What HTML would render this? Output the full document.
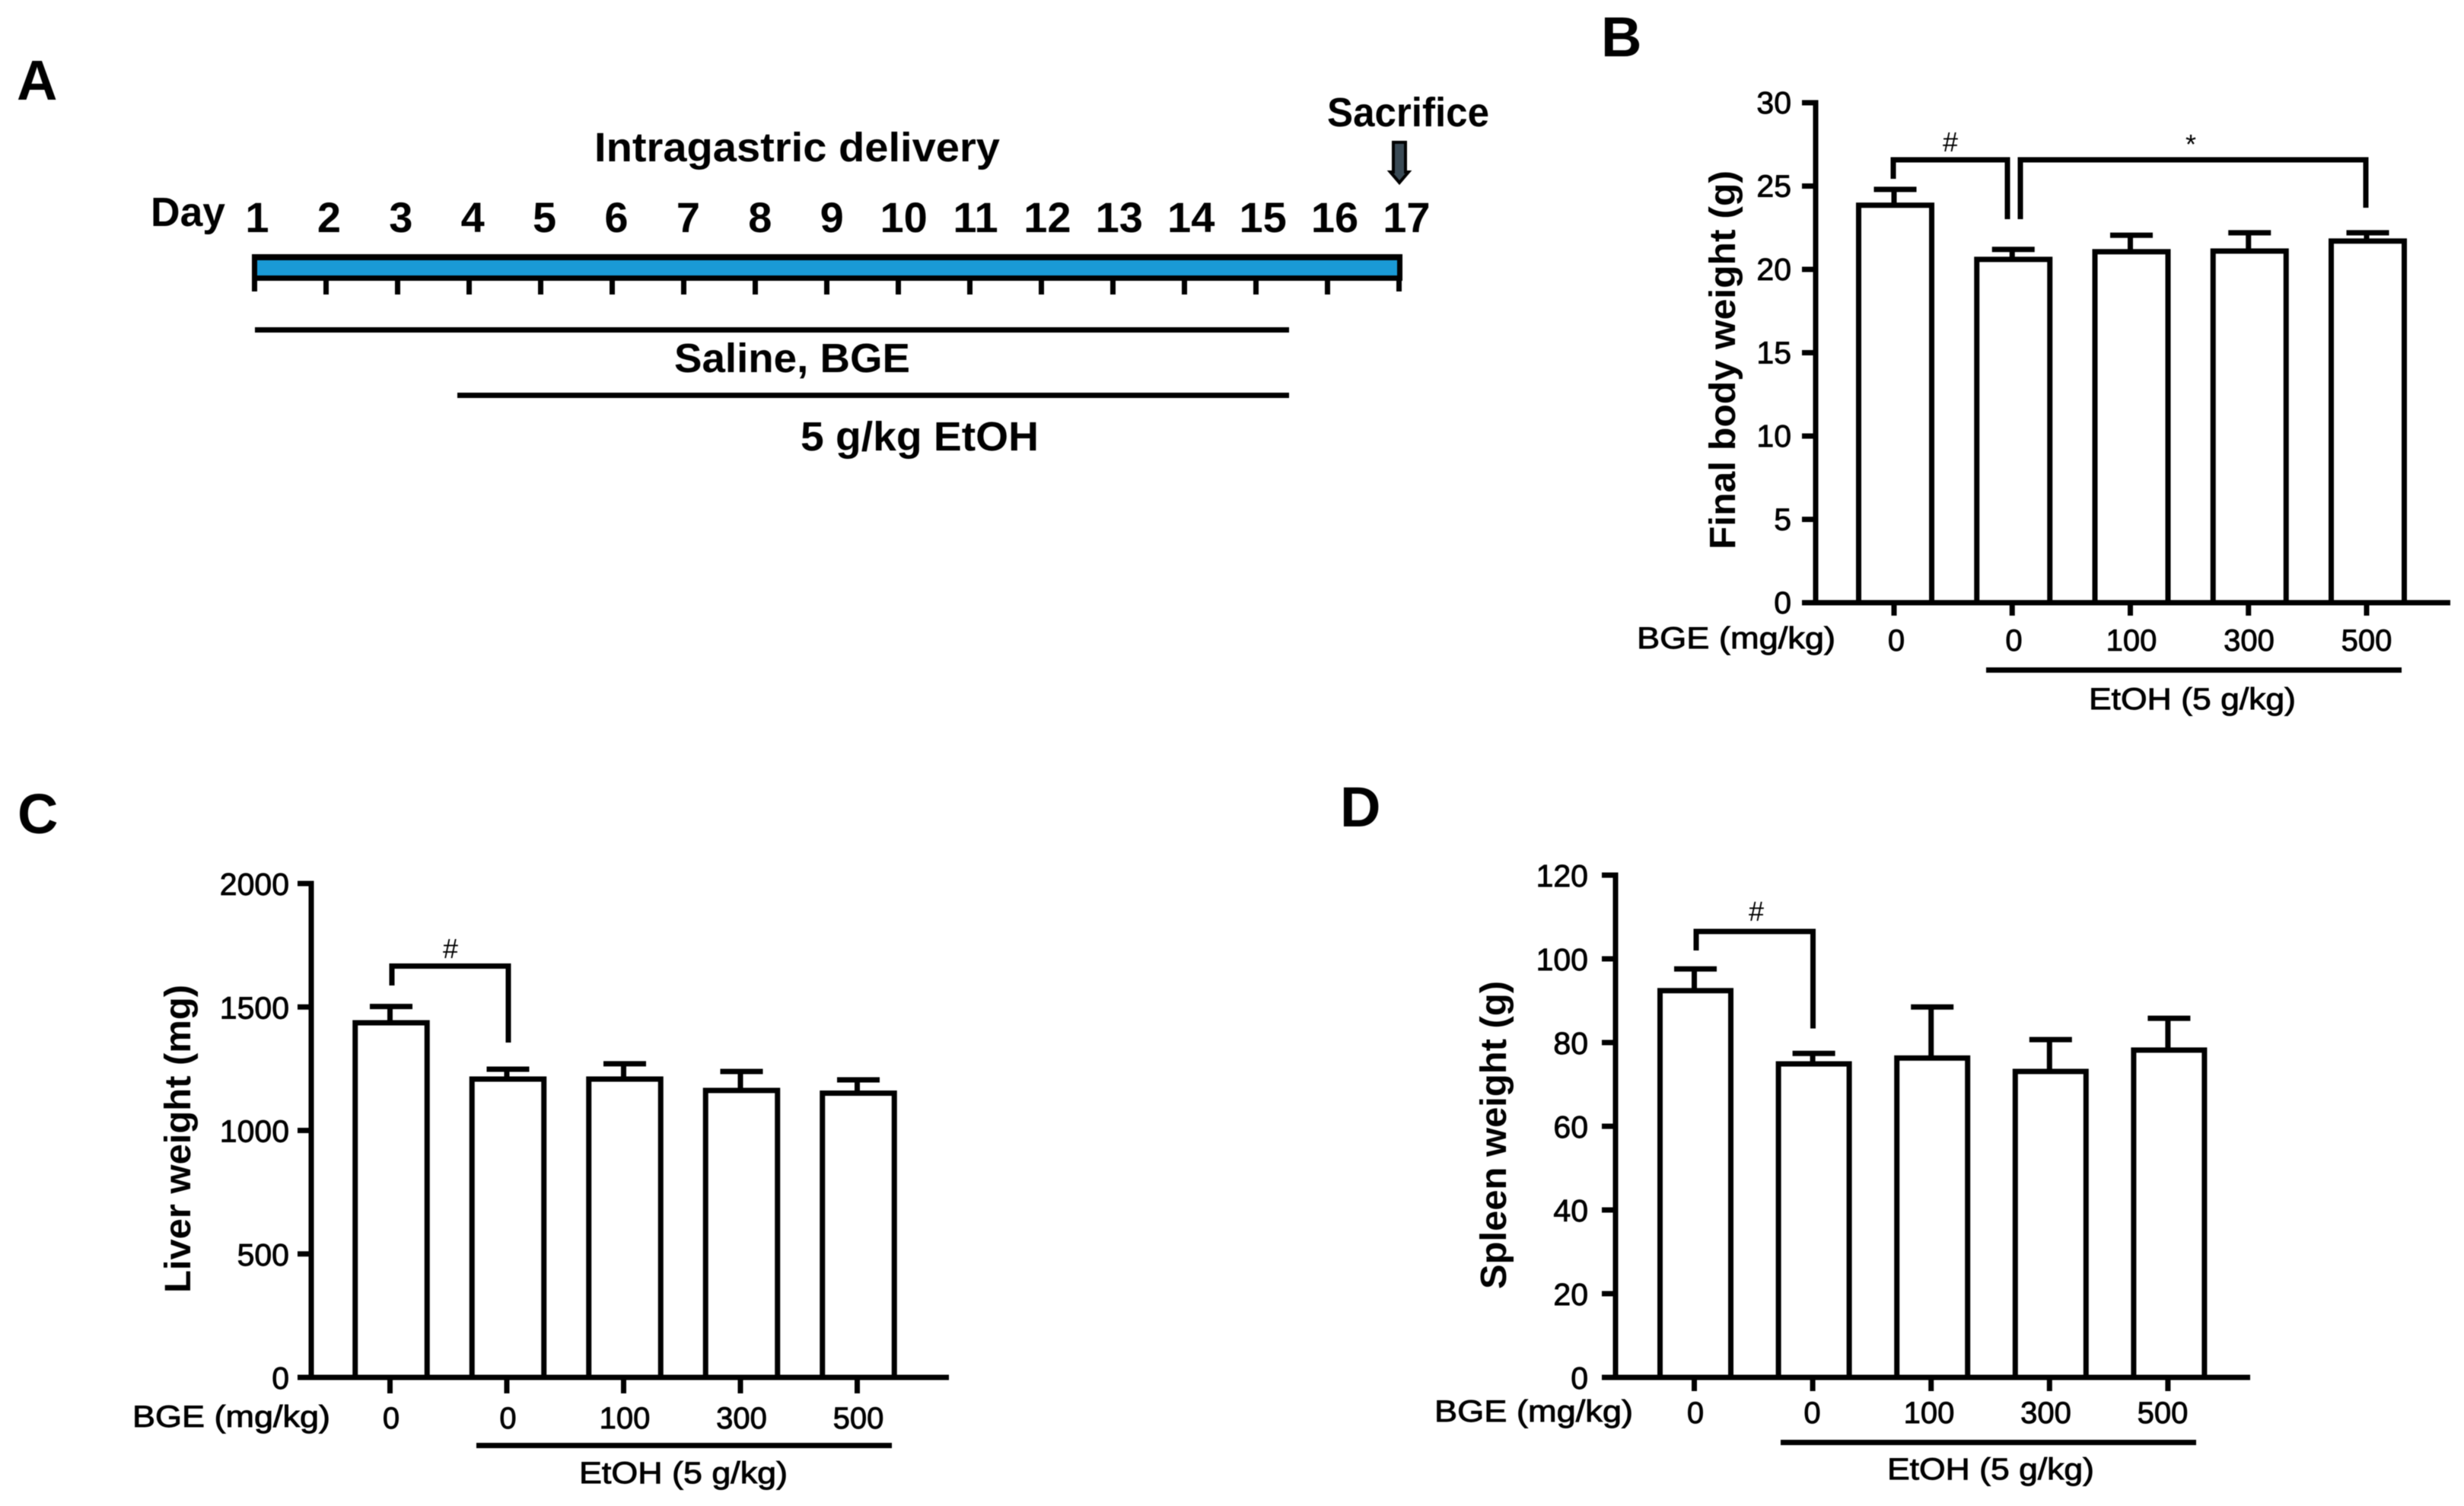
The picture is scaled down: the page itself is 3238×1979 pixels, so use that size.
<!DOCTYPE html>
<html lang="en">
<head>
<meta charset="utf-8">
<title>Body and organ weights</title>
<style>
html,body{margin:0;padding:0;background:#fff;}
svg{display:block;filter:blur(0.6px);}
text{font-family:"Liberation Sans",Arial,sans-serif;fill:#000;}
.bold{font-weight:700;}
.reg{stroke:#000;stroke-width:0.9px;}
.panel{font-weight:700;font-size:74px;}
.title{font-weight:700;font-size:48px;}
.a-label{font-weight:700;font-size:54px;}
.cat{font-size:40px;stroke:#000;stroke-width:0.9px;}
.sig{font-size:36px;}
</style>
</head>
<body>
<svg id="fig" xmlns="http://www.w3.org/2000/svg" width="3238" height="1979" viewBox="0 0 3238 1979">
  <rect x="0" y="0" width="3238" height="1979" fill="#ffffff"/>

  <text class="panel" x="22" y="131">A</text>
  <text class="panel" x="2104" y="74">B</text>
  <text class="panel" x="23" y="1095">C</text>
  <text class="panel" x="1761" y="1086">D</text>

  <g id="timeline">
    <text class="a-label" x="781" y="212" textLength="533" lengthAdjust="spacingAndGlyphs">Intragastric delivery</text>
    <text class="a-label" x="1744" y="166" textLength="213" lengthAdjust="spacingAndGlyphs">Sacrifice</text>
    <text class="a-label" x="198" y="297" textLength="98" lengthAdjust="spacingAndGlyphs">Day</text>
    <path d="M1831 187H1847V226H1851L1839 240L1827 226H1831Z" fill="#3a4a55" stroke="#000" stroke-width="4"/>
    <rect x="331" y="334" width="1512" height="35" fill="#000"/>
    <rect x="338" y="342" width="1498" height="20" fill="#1a9ad6"/>
    <rect x="335" y="430" width="1359" height="7" fill="#000"/>
    <text class="a-label" x="886" y="489" textLength="310" lengthAdjust="spacingAndGlyphs">Saline, BGE</text>
    <rect x="601" y="516" width="1093" height="7" fill="#000"/>
    <text class="a-label" x="1052" y="592" textLength="313" lengthAdjust="spacingAndGlyphs">5 g/kg EtOH</text>
  </g>

  <g id="chart-b">
    <text class="title" transform="translate(2280 722) rotate(-90)" x="0" y="0" textLength="498" lengthAdjust="spacingAndGlyphs">Final body weight (g)</text>
    <text class="cat" x="2151" y="852" textLength="261" lengthAdjust="spacingAndGlyphs">BGE (mg/kg)</text>
    <rect x="2610" y="877" width="546" height="7" fill="#000"/>
    <text class="cat" x="2745" y="932" textLength="272" lengthAdjust="spacingAndGlyphs">EtOH (5 g/kg)</text>
    <text class="sig" x="2563" y="199" text-anchor="middle">#</text>
    <text class="sig" x="2879" y="202" text-anchor="middle">*</text>
    <path d="M2488 235V210H2638V288" fill="none" stroke="#000" stroke-width="7"/>
    <path d="M2655 288V210H3109V273" fill="none" stroke="#000" stroke-width="7"/>
  </g>

  <g id="chart-c">
    <text class="title" transform="translate(250 1699) rotate(-90)" x="0" y="0" textLength="405" lengthAdjust="spacingAndGlyphs">Liver weight (mg)</text>
    <text class="cat" x="174" y="1875" textLength="260" lengthAdjust="spacingAndGlyphs">BGE (mg/kg)</text>
    <rect x="626" y="1896" width="546" height="7" fill="#000"/>
    <text class="cat" x="761" y="1949" textLength="274" lengthAdjust="spacingAndGlyphs">EtOH (5 g/kg)</text>
    <text class="sig" x="592" y="1259" text-anchor="middle">#</text>
    <path d="M515 1295V1269.5H668V1370" fill="none" stroke="#000" stroke-width="7"/>
  </g>

  <g id="chart-d">
    <text class="title" transform="translate(1979 1694) rotate(-90)" x="0" y="0" textLength="405" lengthAdjust="spacingAndGlyphs">Spleen weight (g)</text>
    <text class="cat" x="1885" y="1868" textLength="261" lengthAdjust="spacingAndGlyphs">BGE (mg/kg)</text>
    <rect x="2340" y="1892" width="546" height="7" fill="#000"/>
    <text class="cat" x="2480" y="1944" textLength="272" lengthAdjust="spacingAndGlyphs">EtOH (5 g/kg)</text>
    <text class="sig" x="2308" y="1210" text-anchor="middle">#</text>
    <path d="M2229 1249V1224H2382.5V1351.5" fill="none" stroke="#000" stroke-width="7"/>
  </g>
</svg>

<script>
// ---- data ----
const days = [1,2,3,4,5,6,7,8,9,10,11,12,13,14,15,16,17];
const categories = ['0','0','100','300','500'];

const bodyWeightTicks = [0,5,10,15,20,25,30];
const bodyWeightMeans = [23.85,20.6,21.06,21.1,21.7];
const bodyWeightErrorTops = [24.8,21.2,22.05,22.2,22.2];

const liverWeightTicks = [0,500,1000,1500,2000];
const liverWeightMeans = [1436,1208,1208,1162,1151];
const liverWeightErrorTops = [1502,1248,1270,1239,1205];

const spleenWeightTicks = [0,20,40,60,80,100,120];
const spleenWeightMeans = [92.4,74.9,76.3,73.1,78.2];
const spleenWeightErrorTops = [97.6,77.4,88.5,80.7,85.8];

// ---- drawing helpers ----
const SVGNS = 'http://www.w3.org/2000/svg';

function addLine(parent, x1, y1, x2, y2, width, name) {
  const el = document.createElementNS(SVGNS, 'line');
  el.setAttribute('x1', x1);
  el.setAttribute('y1', y1);
  el.setAttribute('x2', x2);
  el.setAttribute('y2', y2);
  el.setAttribute('stroke', '#000');
  el.setAttribute('stroke-width', width);
  
  
  parent.appendChild(el);
  return el;
}

function addText(parent, x, y, str, size, anchor, cls, name) {
  const el = document.createElementNS(SVGNS, 'text');
  el.setAttribute('x', x);
  el.setAttribute('y', y);
  el.setAttribute('font-size', size);
  el.setAttribute('text-anchor', anchor);
  el.setAttribute('class', cls);
  el.textContent = str;
  
  
  parent.appendChild(el);
  return el;
}

function addBar(parent, x, y, w, h, name) {
  const el = document.createElementNS(SVGNS, 'rect');
  el.setAttribute('x', x);
  el.setAttribute('y', y);
  el.setAttribute('width', w);
  el.setAttribute('height', h);
  el.setAttribute('fill', '#fff');
  el.setAttribute('stroke', '#000');
  el.setAttribute('stroke-width', 7);
  
  
  parent.appendChild(el);
  return el;
}

function drawBarChart(groupId, geo, ticks, means, errorTops) {
  const g = document.getElementById(groupId);
  const maxTick = ticks[ticks.length - 1];
  const yScale = v => geo.yZero - (v / maxTick) * (geo.yZero - geo.yTop);
  const xBand = i => geo.firstCenter + i * geo.step;

  means.forEach((m, i) => {
    const cx = xBand(i);
    addLine(g, cx - 1.5, yScale(errorTops[i]), cx - 1.5, yScale(m), 7, 'error-bar-stem-' + i);
    addLine(g, cx - 28, yScale(errorTops[i]), cx + 28, yScale(errorTops[i]), 7, 'error-bar-cap-' + i);
    addBar(g, cx - geo.barWidth / 2, yScale(m), geo.barWidth, geo.yZero - yScale(m), 'bar-' + i);
  });

  addLine(g, geo.axisX, geo.yTop - 3.5, geo.axisX, geo.yZero + 3.5, 7, 'y-axis-line');
  ticks.forEach(t => {
    const y = yScale(t);
    addLine(g, geo.axisX - 18, y, geo.axisX, y, 7, 'y-tick-' + t);
    addText(g, geo.labelRight, y + geo.labelDy, String(t), 41, 'end', 'reg', 'y-tick-label-' + t);
  });

  addLine(g, geo.axisX - 18, geo.yZero, geo.xEnd, geo.yZero, 7, 'x-axis-line');
  categories.forEach((c, i) => {
    addLine(g, xBand(i) - 1.5, geo.yZero, xBand(i) - 1.5, geo.tickBottom, 7, 'x-tick-' + i);
    addText(g, geo.labelStart + i * geo.labelStep, geo.labelBaseline, c, 40, 'middle', 'reg', 'x-tick-label-' + i);
  });
}

drawBarChart('chart-b',
  {axisX:2386, xEnd:3220, yTop:135, yZero:792, tickBottom:809, firstCenter:2490.5, step:155.25, barWidth:96, labelRight:2354, labelDy:14, labelStart:2492, labelStep:154.5, labelBaseline:855},
  bodyWeightTicks, bodyWeightMeans, bodyWeightErrorTops);

drawBarChart('chart-c',
  {axisX:409, xEnd:1247, yTop:1161, yZero:1810, tickBottom:1831, firstCenter:514, step:153.5, barWidth:94.5, labelRight:380, labelDy:15, labelStart:514, labelStep:153.5, labelBaseline:1877},
  liverWeightTicks, liverWeightMeans, liverWeightErrorTops);

drawBarChart('chart-d',
  {axisX:2123, xEnd:2957, yTop:1150, yZero:1810, tickBottom:1828, firstCenter:2228, step:155.6, barWidth:93, labelRight:2087, labelDy:15, labelStart:2228, labelStep:153.5, labelBaseline:1870},
  spleenWeightTicks, spleenWeightMeans, spleenWeightErrorTops);

// ---- timeline ----
const timeline = document.getElementById('timeline');
const dayTickX = d => 334.5 + (d - 1) * 94;
const dayLabelX = d => 338 + (d - 1) * 94.4;
days.forEach(d => {
  addLine(timeline, dayTickX(d), 369, dayTickX(d), (d === 1 || d === 17) ? 383 : 387, 7, 'day-tick-' + d);
  addText(timeline, dayLabelX(d), 305, String(d), 56, 'middle', 'bold', 'day-label-' + d);
});
</script>
</body>
</html>
